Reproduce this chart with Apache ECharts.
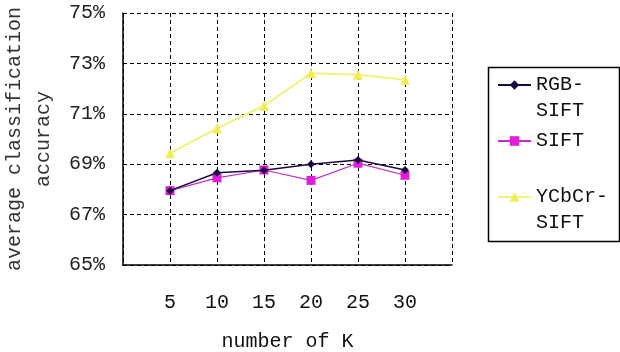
<!DOCTYPE html>
<html>
<head>
<meta charset="utf-8">
<script src="https://cdn.jsdelivr.net/npm/echarts@6/dist/echarts.min.js"></script>
<style>html,body{margin:0;padding:0;background:#fff;}#c{width:620px;height:352px;}</style>
</head>
<body>
<div id="c"></div>
<script>
var kValues = [5, 10, 15, 20, 25, 30];
var seriesNames = ['RGB-SIFT', 'SIFT', 'YCbCr-SIFT'];
var legendLabels = ['\nRGB-\nSIFT', 'SIFT', '\nYCbCr-\nSIFT'];
var rgbSift = [67.95, 68.66, 68.76, 69.0, 69.17, 68.77];
var sift = [67.95, 68.46, 68.77, 68.36, 69.04, 68.56];
var ycbcrSift = [69.43, 70.42, 71.32, 72.61, 72.55, 72.35];
var yTicks = [65, 67, 69, 71, 73, 75];

var FONT = '"Liberation Mono", "DejaVu Sans Mono", monospace';
function pairs(vals) { return kValues.map(function (k, i) { return [k, vals[i]]; }); }

var chart = echarts.init(document.getElementById('c'), null, {renderer: 'canvas'});
var labelMap = {};
seriesNames.forEach(function (n, i) { labelMap[n] = legendLabels[i]; });

chart.setOption({
  animation: false,
  backgroundColor: '#ffffff',
  textStyle: {fontFamily: FONT},
  grid: {left: 123, right: 168, top: 13, bottom: 87, containLabel: false, outerBoundsMode: 'none'},
  graphic: [{
    type: 'rect', left: 486, top: 65, z: -1,
    shape: {width: 131, height: 174},
    style: {fill: 'none', stroke: '#000', lineWidth: 1.5}
  }],
  legend: {
    orient: 'vertical', left: 497, top: 46, padding: 0,
    itemWidth: 33, itemHeight: 12, itemGap: 4,
    formatter: function (n) { return labelMap[n]; },
    textStyle: {fontFamily: FONT, fontSize: 20, color: '#111', lineHeight: 26},
    data: seriesNames.slice()
  },
  xAxis: {
    type: 'value', min: 0, max: 35, interval: 5,
    name: 'number of K', nameLocation: 'middle', nameGap: 67,
    nameTextStyle: {fontFamily: FONT, fontSize: 20, color: '#111'},
    axisLine: {show: true, lineStyle: {color: '#000', width: 1.5}},
    axisTick: {show: false},
    axisLabel: {
      margin: 28, fontFamily: FONT, fontSize: 20, color: '#111',
      formatter: function (v) { return kValues.indexOf(v) >= 0 ? String(v) : ''; }
    },
    splitLine: {show: true, lineStyle: {color: '#000', type: [4, 3], width: 1}}
  },
  yAxis: {
    type: 'value', min: 65, max: 75, interval: 2,
    name: 'average classification\naccuracy', nameLocation: 'middle', nameGap: 59,
    nameTextStyle: {fontFamily: FONT, fontSize: 20, color: '#333', lineHeight: 29},
    axisLine: {show: true, lineStyle: {color: '#000', width: 1.5}},
    axisTick: {show: false},
    axisLabel: {
      margin: 18, fontFamily: FONT, fontSize: 20, color: '#222',
      formatter: function (v) { return yTicks.indexOf(v) >= 0 ? v + '%' : ''; }
    },
    splitLine: {show: true, lineStyle: {color: '#000', type: [4, 3], width: 1}}
  },
  series: [
    {
      name: seriesNames[2], type: 'line', data: pairs(ycbcrSift), z: 2,
      symbol: 'triangle', symbolSize: 10,
      lineStyle: {color: '#f2f27a', width: 2},
      itemStyle: {color: '#eeee55'}
    },
    {
      name: seriesNames[1], type: 'line', data: pairs(sift), z: 3,
      symbol: 'rect', symbolSize: 9,
      lineStyle: {color: '#c030c0', width: 1.2},
      itemStyle: {color: '#e020d8'}
    },
    {
      name: seriesNames[0], type: 'line', data: pairs(rgbSift), z: 4,
      symbol: 'diamond', symbolSize: 8,
      lineStyle: {color: '#1a0a40', width: 1.5},
      itemStyle: {color: '#1a0a40'}
    }
  ]
});
</script>
</body>
</html>
